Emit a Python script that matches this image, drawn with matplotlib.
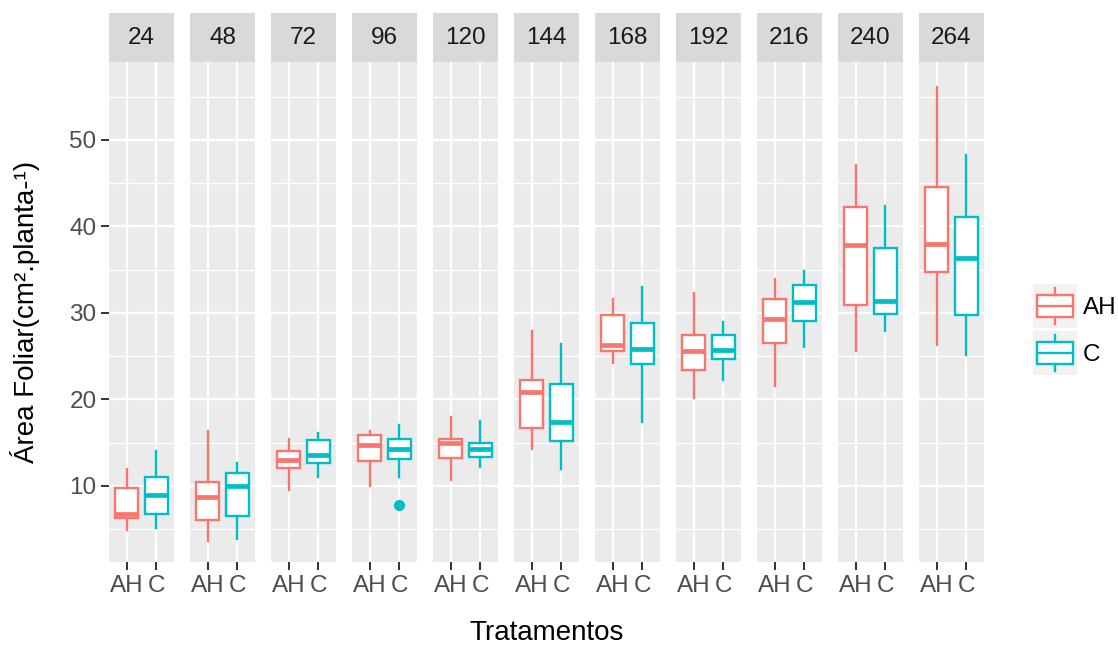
import matplotlib.pyplot as plt
from matplotlib.patches import Rectangle

plt.rcParams['font.family'] = ['Liberation Sans', 'DejaVu Sans']

horas = ['24', '48', '72', '96', '120', '144', '168', '192', '216', '240', '264']
tratamentos = ['AH', 'C']

# AH
ah_whishi = [11.9, 16.3, 15.4, 16.3, 18.0, 27.85, 31.6, 32.3, 33.9, 47.1, 56.1]
ah_q3 = [9.8, 10.5, 14.0, 15.9, 15.4, 22.2, 29.7, 27.4, 31.6, 42.2, 44.6]
ah_med = [6.8, 8.7, 13.0, 14.75, 15.0, 20.9, 26.25, 25.6, 29.3, 37.8, 38.0]
ah_q1 = [6.25, 6.0, 12.1, 12.9, 13.2, 16.7, 25.6, 23.4, 26.5, 30.9, 34.7]
ah_whislo = [4.9, 3.65, 9.5, 10.0, 10.7, 14.3, 24.2, 20.2, 21.6, 25.6, 26.3]
ah_out = [[], [], [], [], [], [], [], [], [], [], []]

# C
c_whishi = [14.0, 12.6, 16.1, 17.0, 17.5, 26.4, 33.0, 29.0, 34.8, 42.4, 48.3]
c_q3 = [11.0, 11.5, 15.3, 15.4, 14.9, 21.8, 28.8, 27.4, 33.2, 37.5, 41.1]
c_med = [8.9, 10.0, 13.6, 14.3, 14.3, 17.35, 25.8, 25.7, 31.2, 31.4, 36.3]
c_q1 = [6.8, 6.5, 12.6, 13.1, 13.3, 15.2, 24.1, 24.65, 29.1, 29.9, 29.7]
c_whislo = [5.1, 3.9, 11.0, 11.0, 12.2, 12.0, 17.35, 22.2, 26.0, 27.9, 25.1]
c_out = [[], [], [], [7.8], [], [], [], [], [], [], []]

cores = {'AH': '#F8766D', 'C': '#00BFC4'}

W, H = 1118, 648
fig = plt.figure(figsize=(W / 100, H / 100), dpi=100)

px_left, px_w, px_step = 109, 65, 81
px_top, px_bot, px_strip = 62, 562, 13
fs = 17.5


def stats(i, whislo, q1, med, q3, whishi, out):
    return dict(whislo=whislo[i], q1=q1[i], med=med[i], q3=q3[i],
                whishi=whishi[i], fliers=out[i])


def draw_box(ax, st, pos, cor):
    ax.bxp([st], positions=[pos], widths=0.78, patch_artist=True,
           showcaps=False,
           boxprops=dict(facecolor='white', edgecolor=cor, linewidth=1.7),
           medianprops=dict(color=cor, linewidth=3.4),
           whiskerprops=dict(color=cor, linewidth=1.7),
           flierprops=dict(marker='o', markerfacecolor=cor, markeredgecolor=cor,
                           markersize=7))


for i, h in enumerate(horas):
    x0 = px_left + i * px_step
    ax = fig.add_axes([x0 / W, (H - px_bot) / H, px_w / W, (px_bot - px_top) / H])
    ax.set_facecolor('#EBEBEB')
    for s in ax.spines.values():
        s.set_visible(False)
    ax.set_xlim(0.4, 2.6)
    ax.set_ylim(1.2, 59.0)
    ax.set_yticks([10, 20, 30, 40, 50])
    ax.set_yticks([5, 15, 25, 35, 45, 55], minor=True)
    ax.set_axisbelow(True)
    ax.grid(which='major', color='white', linewidth=1.6)
    ax.grid(which='minor', axis='y', color='white', linewidth=0.9)

    draw_box(ax, stats(i, ah_whislo, ah_q1, ah_med, ah_q3, ah_whishi, ah_out), 1, cores['AH'])
    draw_box(ax, stats(i, c_whislo, c_q1, c_med, c_q3, c_whishi, c_out), 2, cores['C'])

    ax.set_xticks([1, 2])
    ax.set_xticklabels(tratamentos)
    ax.tick_params(axis='x', length=6, width=1.4, color='#333333', pad=3,
                   labelsize=fs, labelcolor='#4D4D4D')
    ax.tick_params(axis='y', which='minor', left=False)
    if i == 0:
        ax.tick_params(axis='y', which='major', length=6, width=1.4, color='#333333',
                       pad=3, labelsize=fs, labelcolor='#4D4D4D')
    else:
        ax.tick_params(axis='y', which='major', left=False, labelleft=False)

    sx = fig.add_axes([x0 / W, (H - px_top) / H, px_w / W, (px_top - px_strip) / H])
    sx.set_facecolor('#D9D9D9')
    sx.set_xticks([])
    sx.set_yticks([])
    for s in sx.spines.values():
        s.set_visible(False)
    sx.text(0.5, 0.5, h, ha='center', va='center', fontsize=fs, color='#1A1A1A')

# axis titles
fig.text((px_left + (px_left + 10 * px_step + px_w)) / 2 / W, 1 - 633 / H, 'Tratamentos',
         ha='center', va='center', fontsize=20, color='black')
fig.text(25 / W, 1 - 312 / H, 'Área Foliar(cm².planta-¹)', rotation=90,
         ha='center', va='center', fontsize=20, color='black')

# legend
for k, (t, y0) in enumerate([('AH', 284), ('C', 331)]):
    lx = fig.add_axes([1033 / W, (H - y0 - 44) / H, 44 / W, 44 / H])
    lx.set_facecolor('#F2F2F2')
    lx.set_xlim(0, 1)
    lx.set_ylim(0, 1)
    lx.set_xticks([])
    lx.set_yticks([])
    for s in lx.spines.values():
        s.set_visible(False)
    cor = cores[t]
    lx.plot([0.5, 0.5], [0.1, 0.25], color=cor, linewidth=1.7)
    lx.plot([0.5, 0.5], [0.75, 0.9], color=cor, linewidth=1.7)
    lx.add_patch(Rectangle((0.1, 0.25), 0.8, 0.5, facecolor='white', edgecolor=cor, linewidth=1.7))
    lx.plot([0.1, 0.9], [0.5, 0.5], color=cor, linewidth=1.7)
    fig.text(1083 / W, 1 - (y0 + 24) / H, t, ha='left', va='center', fontsize=fs, color='black')

fig.savefig('out.png', dpi=100)
